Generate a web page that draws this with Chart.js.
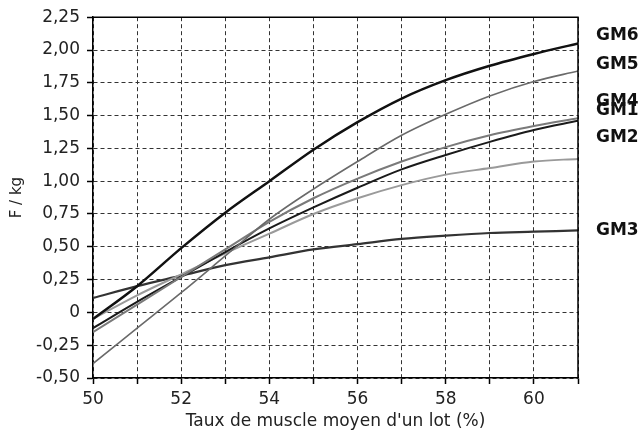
<!DOCTYPE html>
<html>
<head>
<meta charset="utf-8">
<script src="https://cdn.jsdelivr.net/npm/chart.js@4.4.1/dist/chart.umd.min.js"></script>
<style>
  html, body { margin: 0; padding: 0; background: #fff; }
  #wrap { width: 640px; height: 433px; }
</style>
</head>
<body>
<div id="wrap"><canvas id="myChart"></canvas></div>
<script>
// taux de muscle (%)
var xValues = [50, 51, 52, 53, 54, 55, 56, 57, 58, 59, 60, 61];

var gm6 = [-0.05, 0.20, 0.49, 0.76, 1.00, 1.24, 1.45, 1.63, 1.77, 1.88, 1.97, 2.05];
var gm5 = [-0.39, -0.12, 0.15, 0.43, 0.71, 0.94, 1.15, 1.35, 1.51, 1.65, 1.76, 1.84];
var gm4 = [-0.15, 0.06, 0.27, 0.48, 0.69, 0.87, 1.02, 1.15, 1.26, 1.35, 1.42, 1.48];
var gm1 = [-0.12, 0.08, 0.27, 0.46, 0.64, 0.80, 0.95, 1.09, 1.20, 1.30, 1.39, 1.46];
var gm2 = [-0.05, 0.13, 0.29, 0.45, 0.60, 0.75, 0.87, 0.97, 1.05, 1.10, 1.15, 1.17];
var gm3 = [0.11, 0.20, 0.28, 0.36, 0.42, 0.48, 0.52, 0.56, 0.585, 0.605, 0.615, 0.625];

var names = ['GM6', 'GM5', 'GM4', 'GM1', 'GM2', 'GM3'];
var series = [gm6, gm5, gm4, gm1, gm2, gm3];
var colors = ['#111', '#6a6a6a', '#7a7a7a', '#1a1a1a', '#9a9a9a', '#333'];
var widths = [2.5, 1.6, 2, 2, 2, 2.2];
// where the names sit on the right, in F/kg
var labelAt = [2.11, 1.89, 1.61, 1.54, 1.33, 0.62];

var font = "'DejaVu Sans', sans-serif";

function pts(arr) {
  return xValues.map(function (x, i) { return {x: x, y: arr[i]}; });
}

var datasets = series.map(function (s, i) {
  return {
    label: names[i],
    data: pts(s),
    borderColor: colors[i],
    borderWidth: widths[i],
    pointRadius: 0,
    fill: false,
    cubicInterpolationMode: 'monotone'
  };
});

// solid frame on top and right + series names
var framePlugin = {
  id: 'frame',
  afterDatasetsDraw: function (chart) {
    var ctx = chart.ctx, a = chart.chartArea;
    ctx.save();
    ctx.strokeStyle = '#000';
    ctx.lineWidth = 1.5;
    ctx.beginPath();
    ctx.moveTo(a.left, a.top);
    ctx.lineTo(a.right, a.top);
    ctx.lineTo(a.right, a.bottom);
    ctx.stroke();

    ctx.fillStyle = '#111';
    ctx.font = 'bold 17px ' + font;
    ctx.textAlign = 'left';
    ctx.textBaseline = 'middle';
    var yScale = chart.scales.y;
    names.forEach(function (n, i) {
      ctx.fillText(n, a.right + 18, yScale.getPixelForValue(labelAt[i]));
    });
    ctx.restore();
  }
};

new Chart(document.getElementById('myChart'), {
  type: 'line',
  data: { datasets: datasets },
  options: {
    responsive: true,
    maintainAspectRatio: false,
    animation: false,
    layout: { padding: { top: 0, right: 62, left: 0, bottom: 0 } },
    plugins: {
      legend: { display: false },
      tooltip: { enabled: false }
    },
    scales: {
      x: {
        type: 'linear',
        min: 50,
        max: 61,
        afterFit: function (s) { s.height = 55; },
        ticks: {
          stepSize: 1,
          color: '#222',
          padding: 5,
          font: { family: font, size: 17 },
          maxRotation: 0,
          autoSkip: false,
          callback: function (v) { return v % 2 === 0 ? String(v) : ''; }
        },
        grid: { color: '#333', lineWidth: 1, tickColor: '#000', tickLength: 6, tickWidth: 1.5 },
        border: { display: true, color: '#000', width: 1.5, dash: [4, 3] },
        title: {
          display: true,
          text: "Taux de muscle moyen d'un lot (%)",
          color: '#222',
          font: { family: font, size: 17 },
          padding: { top: 0, bottom: 1 }
        }
      },
      y: {
        min: -0.5,
        max: 2.25,
        afterFit: function (s) { s.width = 93; },
        ticks: {
          stepSize: 0.25,
          color: '#222',
          padding: 7,
          font: { family: font, size: 17 },
          callback: function (v) {
            if (Math.abs(v) < 1e-9) return '0';
            return v.toFixed(2).replace('.', ',');
          }
        },
        grid: { color: '#333', lineWidth: 1, tickColor: '#000', tickLength: 6, tickWidth: 1.5 },
        border: { display: true, color: '#000', width: 1.5, dash: [4, 3] },
        title: {
          display: true,
          text: 'F / kg',
          color: '#222',
          font: { family: font, size: 15 },
          padding: { top: 8, bottom: 0 }
        }
      }
    }
  },
  plugins: [framePlugin]
});
</script>
</body>
</html>
